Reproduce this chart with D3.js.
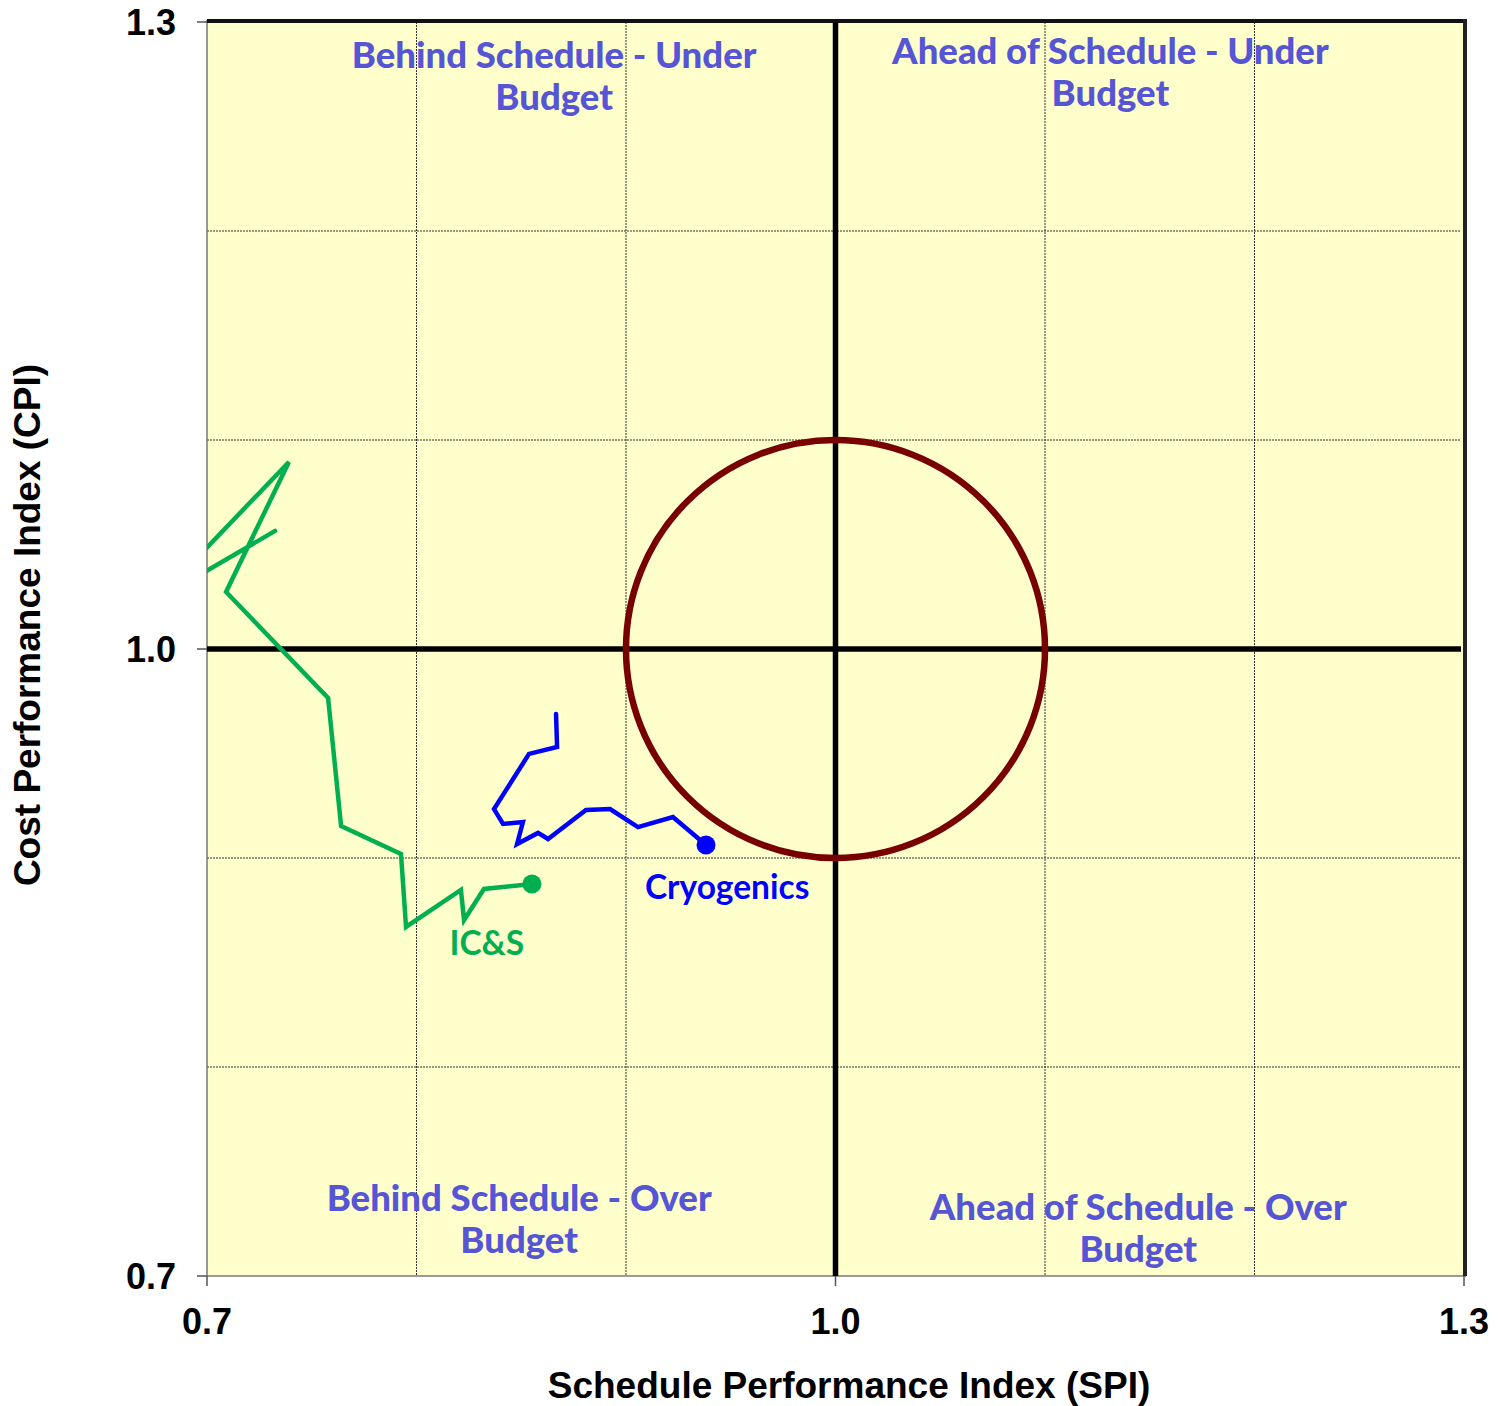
<html>
  <head>
    <script src="https://cdnjs.cloudflare.com/ajax/libs/d3/7.8.5/d3.min.js"></script>
    <style>
    body { margin: 0; background: white; }
    svg { display: block; }
    .tick-label { font-family: "Liberation Sans", Arial, sans-serif; font-weight: bold; font-size: 36px; fill: black; }
    .axis-title { font-family: "Liberation Sans", Arial, sans-serif; font-weight: bold; font-size: 37px; fill: black; }
    .quad { font-family: "Lato", "DejaVu Sans", sans-serif; font-weight: 900; font-size: 36.5px; fill: #5555d5; }
    .series-label { font-family: "Lato", "Open Sans", sans-serif; font-weight: bold; font-size: 33.5px; }
    </style>
  </head>
  <body>
    <svg width="1498" height="1406" id="chart"></svg>

    <script>
    // SPI / CPI history for each work package
    var icsSpi = [0.7325, 0.676, 0.7391, 0.7091, 0.7578, 0.764, 0.7926, 0.795, 0.8212, 0.8227, 0.8322, 0.8551];
    var icsCpi = [1.0565, 1.0234, 1.0895, 1.0273, 0.9766, 0.9153, 0.9019, 0.867, 0.8847, 0.8703, 0.8852, 0.8876];

    var cryoSpi = [0.8666, 0.8671, 0.8537, 0.837, 0.8413, 0.8508, 0.848, 0.858, 0.8628, 0.8809, 0.8924, 0.9057, 0.9224, 0.9382];
    var cryoCpi = [0.9689, 0.9531, 0.9498, 0.9234, 0.9163, 0.9172, 0.9067, 0.912, 0.9091, 0.923, 0.9234, 0.9148, 0.9196, 0.9062];

    var axisTicks = [0.7, 1.0, 1.3];
    var gridTicks = [0.8, 0.9, 1.1, 1.2];
    var quadLabels = [
      {lines: ['Behind Schedule - Under', 'Budget'], x: 0.8657, y: 1.278},
      {lines: ['Ahead of Schedule - Under', 'Budget'], x: 1.1312, y: 1.280},
      {lines: ['Behind Schedule - Over', 'Budget'], x: 0.8490, y: 0.731},
      {lines: ['Ahead of Schedule - Over', 'Budget'], x: 1.1445, y: 0.727}
    ];

    var svg = d3.select('#chart');
    var pLeft = 207, pRight = 1464, pTop = 22, pBottom = 1276;

    var x = d3.scaleLinear().domain([0.7, 1.3]).range([pLeft, pRight]);
    var y = d3.scaleLinear().domain([0.7, 1.3]).range([pBottom, pTop]);

    svg.append('defs').append('clipPath').attr('id', 'plotclip')
      .append('rect')
        .attr('x', pLeft).attr('y', pTop)
        .attr('width', pRight - pLeft).attr('height', pBottom - pTop);

    // plot background
    svg.append('rect')
      .attr('x', pLeft).attr('y', pTop)
      .attr('width', pRight - pLeft).attr('height', pBottom - pTop)
      .style('fill', '#ffffcc');

    // dotted grid
    var grid = svg.append('g');
    grid.selectAll('line.gx').data(gridTicks).enter().append('line')
      .attr('x1', function(d) { return x(d); }).attr('x2', function(d) { return x(d); })
      .attr('y1', pTop).attr('y2', pBottom)
      .style('stroke', '#333').style('stroke-width', 1).style('stroke-dasharray', '2,1');
    grid.selectAll('line.gy').data(gridTicks).enter().append('line')
      .attr('y1', function(d) { return y(d); }).attr('y2', function(d) { return y(d); })
      .attr('x1', pLeft).attr('x2', pRight - 4)
      .style('stroke', '#333').style('stroke-width', 1).style('stroke-dasharray', '2,1');

    // frame
    svg.append('line').attr('x1', pLeft).attr('x2', pLeft).attr('y1', pTop - 2).attr('y2', pBottom)
      .style('stroke', '#777').style('stroke-width', 1.5);
    svg.append('line').attr('x1', pLeft).attr('x2', pRight + 2).attr('y1', pBottom).attr('y2', pBottom)
      .style('stroke', '#777').style('stroke-width', 1.5);
    svg.append('line').attr('x1', pLeft).attr('x2', pRight + 3).attr('y1', pTop - 1).attr('y2', pTop - 1)
      .style('stroke', '#111').style('stroke-width', 4);
    svg.append('line').attr('x1', pRight + 1).attr('x2', pRight + 1).attr('y1', pTop - 3).attr('y2', pBottom)
      .style('stroke', '#222').style('stroke-width', 4);

    // tick marks
    svg.selectAll('line.ty').data(axisTicks).enter().append('line')
      .attr('x1', pLeft - 10).attr('x2', pLeft)
      .attr('y1', function(d) { return y(d); }).attr('y2', function(d) { return y(d); })
      .style('stroke', '#555').style('stroke-width', 1.5);
    svg.selectAll('line.tx').data(axisTicks).enter().append('line')
      .attr('y1', pBottom).attr('y2', pBottom + 10)
      .attr('x1', function(d) { return x(d); }).attr('x2', function(d) { return x(d); })
      .style('stroke', '#555').style('stroke-width', 1.5);

    // center cross at 1.0
    svg.append('line')
      .attr('x1', pLeft).attr('x2', pRight - 3)
      .attr('y1', y(1.0)).attr('y2', y(1.0))
      .style('stroke', 'black').style('stroke-width', 5.5);
    svg.append('line')
      .attr('x1', x(1.0)).attr('x2', x(1.0))
      .attr('y1', pTop).attr('y2', pBottom)
      .style('stroke', 'black').style('stroke-width', 5.5);

    // target circle (radius 0.1)
    svg.append('ellipse')
      .attr('cx', x(1.0)).attr('cy', y(1.0))
      .attr('rx', x(1.1) - x(1.0)).attr('ry', y(1.0) - y(1.1))
      .style('fill', 'none').style('stroke', '#780000').style('stroke-width', 6.5);

    // quadrant labels
    quadLabels.forEach(function(q) {
      var t = svg.append('text').attr('class', 'quad').attr('text-anchor', 'middle');
      q.lines.forEach(function(s, i) {
        t.append('tspan').attr('x', x(q.x)).attr('y', y(q.y) + i * 42).text(s);
      });
    });

    // series
    var line = d3.line()
      .x(function(d) { return x(d[0]); })
      .y(function(d) { return y(d[1]); });

    function drawSeries(spi, cpi, color) {
      var pts = d3.zip(spi, cpi);
      svg.append('path')
        .datum(pts)
        .attr('clip-path', 'url(#plotclip)')
        .attr('d', line)
        .style('fill', 'none').style('stroke', color)
        .style('stroke-width', 4.5).style('stroke-linejoin', 'miter').style('stroke-linecap', 'round');
      var last = pts[pts.length - 1];
      svg.append('circle')
        .attr('cx', x(last[0])).attr('cy', y(last[1])).attr('r', 9.5)
        .style('fill', color);
    }
    drawSeries(icsSpi, icsCpi, '#00b050');
    drawSeries(cryoSpi, cryoCpi, '#0000ff');

    svg.append('text').attr('class', 'series-label')
      .attr('x', x(0.8336)).attr('y', y(0.8535)).attr('text-anchor', 'middle')
      .style('fill', '#00b050').text('IC&S');
    svg.append('text').attr('class', 'series-label')
      .attr('x', x(0.9483)).attr('y', y(0.8805)).attr('text-anchor', 'middle')
      .style('fill', '#0000ff').text('Cryogenics');

    // tick labels
    svg.selectAll('text.yl').data(axisTicks).enter().append('text')
      .attr('class', 'tick-label')
      .attr('x', 176).attr('y', function(d) { return y(d) + 13; })
      .attr('text-anchor', 'end')
      .text(function(d) { return d.toFixed(1); });
    svg.selectAll('text.xl').data(axisTicks).enter().append('text')
      .attr('class', 'tick-label')
      .attr('x', function(d) { return x(d); }).attr('y', 1334)
      .attr('text-anchor', 'middle')
      .text(function(d) { return d.toFixed(1); });

    // axis titles
    svg.append('text').attr('class', 'axis-title')
      .attr('x', 849).attr('y', 1398).attr('text-anchor', 'middle')
      .text('Schedule Performance Index (SPI)');
    svg.append('text').attr('class', 'axis-title')
      .attr('transform', 'translate(40 625) rotate(-90)').attr('text-anchor', 'middle')
      .text('Cost Performance Index (CPI)');
    </script>
  </body>
</html>
